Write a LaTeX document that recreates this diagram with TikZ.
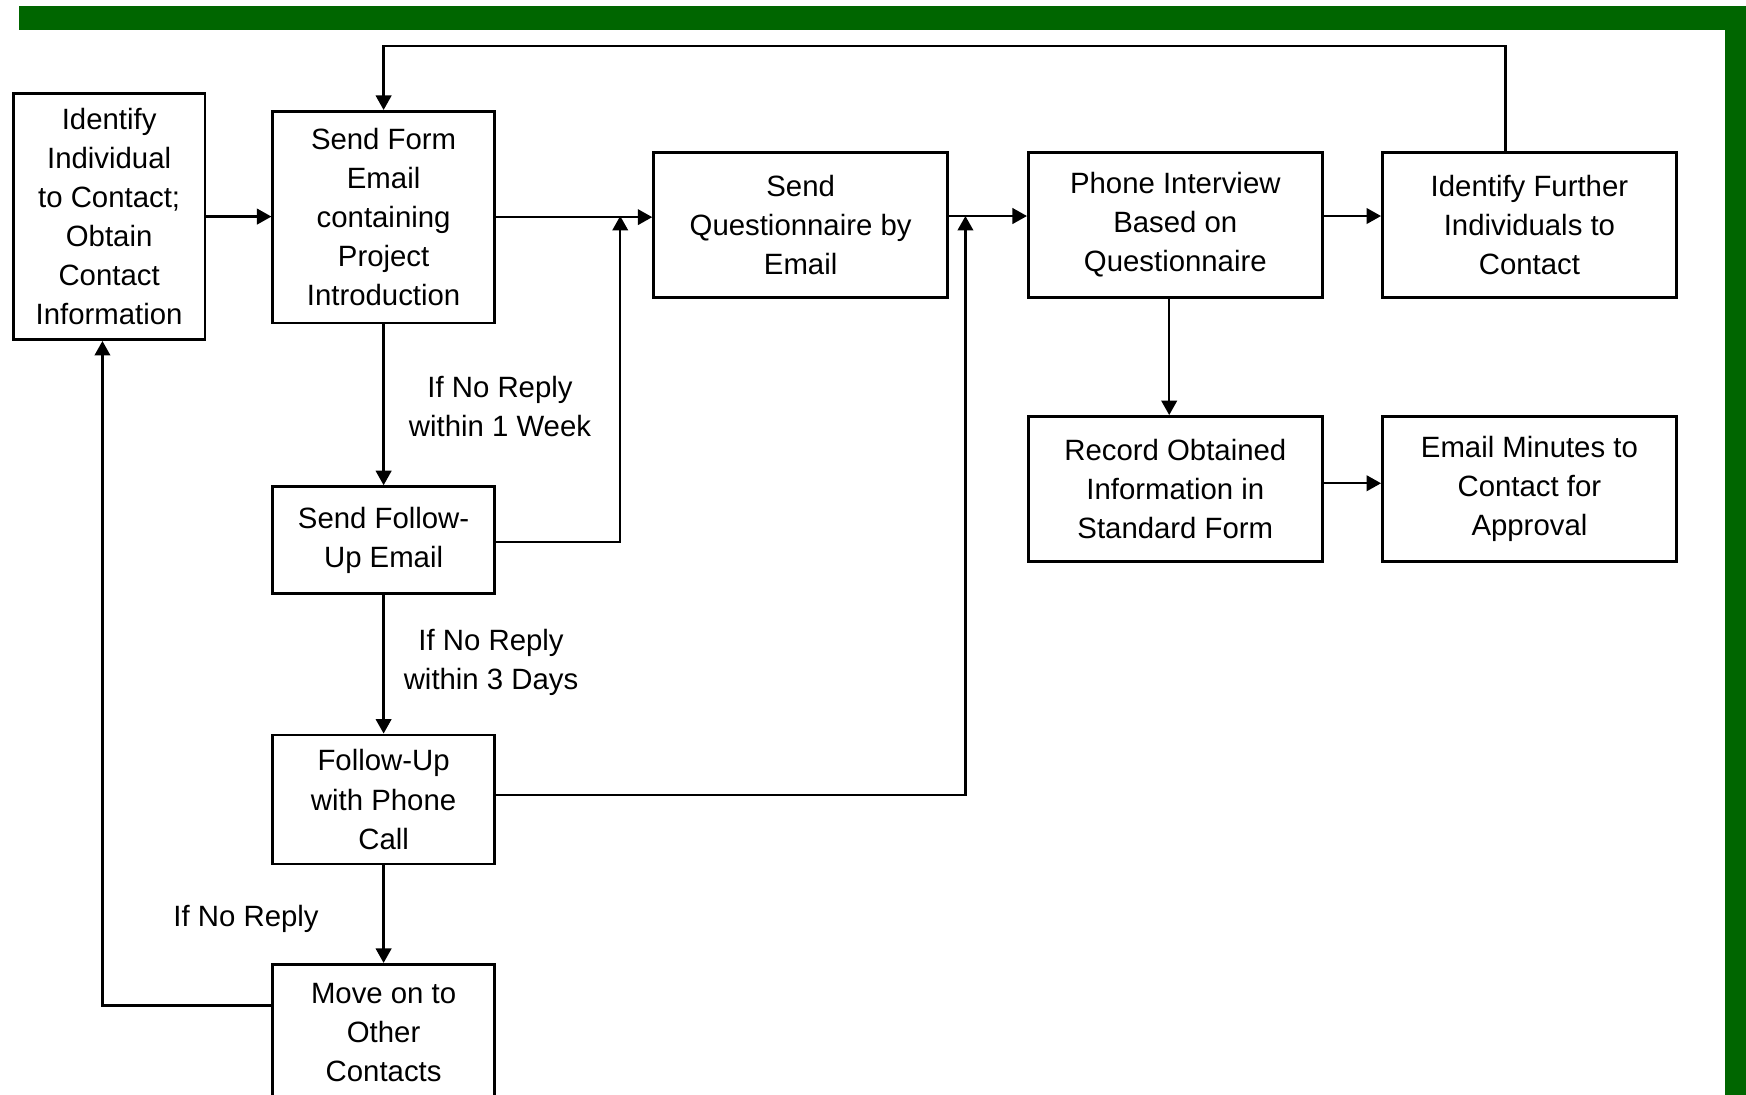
\documentclass[tikz,border=0pt]{standalone}
\usepackage{fontspec}
\setmainfont{Liberation Sans}
\usetikzlibrary{arrows.meta}
\definecolor{bargreen}{RGB}{0,102,0}
\tikzset{
  stepbox/.style={draw,line width=.5mm,align=center,inner sep=0pt,font=\fontsize{15}{20}\selectfont},
  note/.style={align=center,font=\fontsize{15}{20}\selectfont},
  link/.style={line width=.4mm,-{Triangle[length=2.6mm,width=2.8mm]}},
}

\begin{document}
\begin{tikzpicture}[x=.2mm,y=-.2mm]
  \useasboundingbox (0,0) rectangle (1568,983);
  \fill[bargreen] (17,5) rectangle (1568,27);
  \fill[bargreen] (1549,5) rectangle (1568,983);
  \begin{scope}
    \clip (0,0) rectangle (1568,983);
    \node[stepbox,minimum width=34.4mm,minimum height=44.2mm] (ident) at (98,194.5) {Identify\\Individual\\to Contact;\\Obtain\\Contact\\Information};
    \node[stepbox,minimum width=39.8mm,minimum height=38mm] (form) at (344.5,195) {Send Form\\Email\\containing\\Project\\Introduction};
    \node[stepbox,minimum width=52.8mm,minimum height=26mm] (quest) at (719,202) {Send\\Questionnaire by\\Email};
    \node[stepbox,minimum width=52.8mm,minimum height=26mm] (phone) at (1055.5,202) {Phone Interview\\Based on\\Questionnaire};
    \node[stepbox,minimum width=52.8mm,minimum height=26mm] (further) at (1373.5,202) {Identify Further\\Individuals to\\Contact};
    \node[stepbox,minimum width=52.8mm,minimum height=26mm] (record) at (1055.5,439) {Record Obtained\\Information in\\Standard Form};
    \node[stepbox,minimum width=52.8mm,minimum height=26mm] (minutes) at (1373.5,439) {Email Minutes to\\Contact for\\Approval};
    \node[stepbox,minimum width=39.8mm,minimum height=19.2mm] (follow) at (344.5,485) {Send Follow-\\Up Email};
    \node[stepbox,minimum width=39.8mm,minimum height=23.2mm] (call) at (344.5,718) {Follow-Up\\with Phone\\Call};
    \node[stepbox,minimum width=39.8mm,minimum height=24.4mm] (move) at (344.5,927) {Move on to\\Other\\Contacts};

    % conditions
    \node[note] (week) at (449,365) {If No Reply\\within 1 Week};
    \node[note] (days) at (441,595) {If No Reply\\within 3 Days};
    \node[note] (noreply) at (221,825) {If No Reply};

    \coordinate (up1) at (557,194);
    \coordinate (up2) at (867,194);
    \coordinate (top) at (1352,41);
    \coordinate (back) at (92,903);
    \coordinate (down) at (1050,434);

    \draw[link] (ident.east) -- (ident.east -| form.west);
    \draw[link] (form.east) -- (form.east -| quest.west);
    \draw[link] (quest.east |- up1) -- (phone.west |- up1);
    \draw[link] (phone.east |- up1) -- (further.west |- up1);
    \draw[link] (record.east |- down) -- (minutes.west |- down);
    \draw[link] (down |- phone.south) -- (down |- record.north);
    \draw[link] (top |- further.north) -- (top) -| (form.north);
    \draw[link] (form.south) -- (follow.north);
    \draw[link] (follow.south) -- (call.north);
    \draw[link] (call.south) -- (move.north);
    \draw[link] ([yshift=-.4mm]follow.east) -| (up1);
    \draw[link] ([yshift=.8mm]call.east) -| (up2);
    \draw[link] (move.west |- back) -- (back) -- (back |- ident.south);
  \end{scope}
\end{tikzpicture}
\end{document}
